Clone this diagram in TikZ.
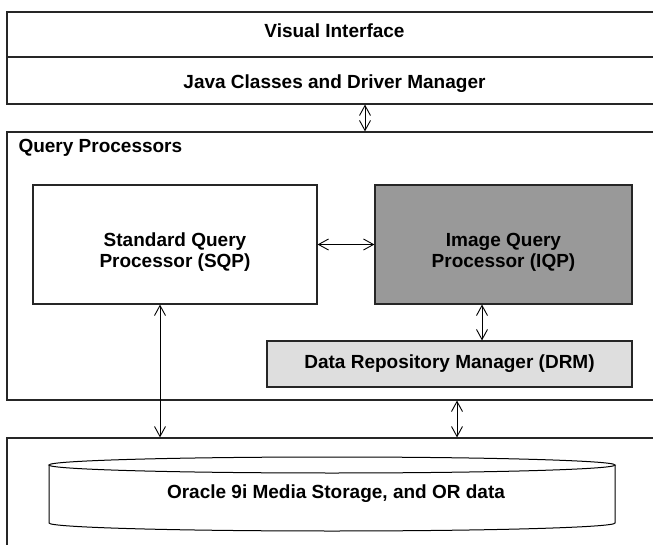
\documentclass[tikz,border=0pt]{standalone}
\usepackage{fontspec}
\setmainfont{Liberation Sans}
\usetikzlibrary{arrows.meta}
\tikzstyle{box} = [draw=black!85, line width=1.2pt, align=center, inner sep=0pt, font=\bfseries\fontsize{19}{21}\selectfont]
\tikzstyle{lbl} = [font=\bfseries\fontsize{19}{21}\selectfont, align=center]
\tikzstyle{arr} = [black, line width=0.9pt, {Straight Barb[length=10pt,width=11pt]}-{Straight Barb[length=10pt,width=11pt]}]

\begin{document}
\begin{tikzpicture}[x=1pt, y=-1pt]
\useasboundingbox (0,0) rectangle (653,545);
\clip (0,0) rectangle (653,545);

% top layers
\node[box, minimum width=655pt, minimum height=45pt, label={[lbl,yshift=4pt]center:Visual Interface}] (vis) at (334.5,34.5) {};
\node[box, minimum width=655pt, minimum height=47pt, label={[lbl,yshift=-3pt]center:Java Classes and Driver Manager}] (java) at (334.5,80.5) {};

% query processors
\node[box, minimum width=655pt, minimum height=268pt] (qp) at (334.5,266) {};
\node[lbl, anchor=west] (qptitle) at (15,148) {Query Processors};
\node[box, minimum width=284pt, minimum height=119pt, label={[lbl,yshift=-8pt]center:Standard Query\\Processor (SQP)}] (sqp) at (175,244.5) {};
\node[box, fill=black!40, minimum width=257pt, minimum height=119pt, label={[lbl,yshift=-8pt]center:Image Query\\Processor (IQP)}] (iqp) at (503.5,244.5) {};
\node[box, fill=black!13, minimum width=365pt, minimum height=46pt] (drm) at (449.5,364) {Data Repository Manager (DRM)};

% storage
\node[box, minimum width=655pt, minimum height=140pt] (db) at (334.5,508) {};
\draw[line width=1pt] (49,465) -- (49,523) arc[start angle=180, end angle=360, x radius=283pt, y radius=8pt] -- (615,465);
\draw[line width=1pt] (332,465) ellipse [x radius=283pt, y radius=8pt];
\node[lbl] (store) at (336,494) {Oracle 9i Media Storage, and OR data};

\coordinate (c1) at (365,0);
\coordinate (c2) at (482,0);
\coordinate (c3) at (160,0);
\coordinate (c4) at (457,0);
\draw[arr] (java.south -| c1) -- (qp.north -| c1);
\draw[arr] (sqp.east) -- (iqp.west);
\draw[arr] (iqp.south -| c2) -- (drm.north -| c2);
\draw[arr] (sqp.south -| c3) -- (db.north -| c3);
\draw[arr] (qp.south -| c4) -- (db.north -| c4);
\end{tikzpicture}
\end{document}
